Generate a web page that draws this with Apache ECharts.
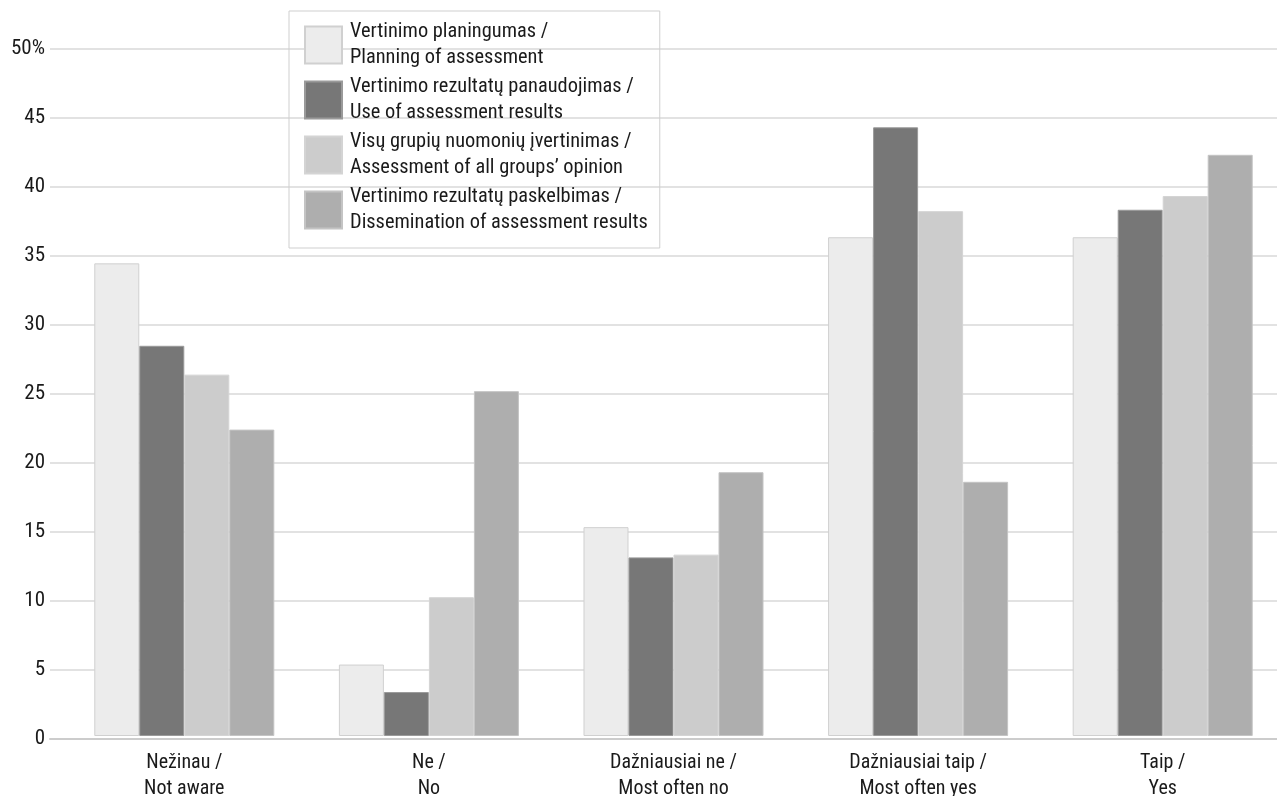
<!DOCTYPE html>
<html><head><meta charset="utf-8">
<script src="https://cdn.jsdelivr.net/npm/echarts@6/dist/echarts.min.js"></script>
<style>html,body{margin:0;padding:0;background:#fff}#c{width:1277px;height:796px}</style>
</head><body><div id="c"></div>
<script>
const categories = ['Nežinau /\nNot aware', 'Ne /\nNo', 'Dažniausiai ne /\nMost often no', 'Dažniausiai taip /\nMost often yes', 'Taip /\nYes'];
const seriesNames = [
  'Vertinimo planingumas /\nPlanning of assessment',
  'Vertinimo rezultatų panaudojimas /\nUse of assessment results',
  'Visų grupių nuomonių įvertinimas /\nAssessment of all groups’ opinion',
  'Vertinimo rezultatų paskelbimas /\nDissemination of assessment results'
];
const planning = [34.4, 5.2, 15.2, 36.3, 36.3];
const useResults = [28.4, 3.2, 13.0, 44.3, 38.3];
const allGroups = [26.3, 10.1, 13.2, 38.2, 39.3];
const dissemination = [22.3, 25.1, 19.2, 18.5, 42.3];
const yTicks = [0, 5, 10, 15, 20, 25, 30, 35, 40, 45, 50];

const FONT = "'Liberation Sans Narrow','Roboto Condensed','DejaVu Sans Condensed','Liberation Sans',sans-serif";
const colors = ['#ececec', '#777777', '#cccccc', '#aeaeae'];
const borders = ['#d0d0d0', '#9a9a9a', '#d4d4d4', '#c4c4c4'];
const dataSets = [planning, useResults, allGroups, dissemination];

const chart = echarts.init(document.getElementById('c'));
chart.setOption({
  animation: false,
  backgroundColor: '#fff',
  textStyle: { fontFamily: FONT },
  grid: [
    { left: 50, right: 0, top: 49, bottom: 57, outerBoundsMode: 'none', containLabel: false },
    { left: 62, right: -8, top: 49, bottom: 60, outerBoundsMode: 'none', containLabel: false }
  ],
  legend: {
    orient: 'vertical', left: 289, top: 11,
    padding: [2, 12, 6, 15],
    borderColor: '#cfcfcf', borderWidth: 1,
    itemWidth: 37, itemHeight: 37, itemGap: -9,
    icon: 'rect',
    textStyle: { fontFamily: FONT, fontSize: 20.4, color: '#1a1a1a', lineHeight: 26, padding: [12, 0, 0, 3] },
    data: seriesNames
  },
  xAxis: [
    {
      type: 'value', gridIndex: 0, min: 0, max: 1,
      axisLine: { show: true, onZero: false, lineStyle: { color: '#cccccc', width: 2 } },
      axisTick: { show: false }, axisLabel: { show: false }, splitLine: { show: false }
    },
    {
      type: 'category', gridIndex: 1, data: categories,
      axisLine: { show: false },
      axisTick: { show: false },
      axisLabel: { fontFamily: FONT, fontSize: 20, color: '#1a1a1a', lineHeight: 26, margin: 14 }
    }
  ],
  yAxis: [
    {
      type: 'value', gridIndex: 0, min: 0, max: 50, interval: 5,
      axisLine: { show: false }, axisTick: { show: false },
      splitLine: { lineStyle: { color: '#d8d8d8', width: 1.5 } },
      axisLabel: {
        fontFamily: FONT, fontSize: 21, color: '#1a1a1a', margin: 5,
        formatter: v => yTicks.includes(v) ? (v === 50 ? '50%' : String(v)) : ''
      }
    },
    {
      type: 'value', gridIndex: 1, min: 0, max: 50, interval: 5,
      axisLine: { show: false }, axisTick: { show: false },
      splitLine: { show: false }, axisLabel: { show: false }
    }
  ],
  series: dataSets.map((d, i) => ({
    name: seriesNames[i], type: 'bar', data: d,
    xAxisIndex: 1, yAxisIndex: 1,
    barGap: '0%', barCategoryGap: '26.4%',
    itemStyle: { color: colors[i], borderColor: borders[i], borderWidth: 1 }
  }))
});
</script></body></html>
